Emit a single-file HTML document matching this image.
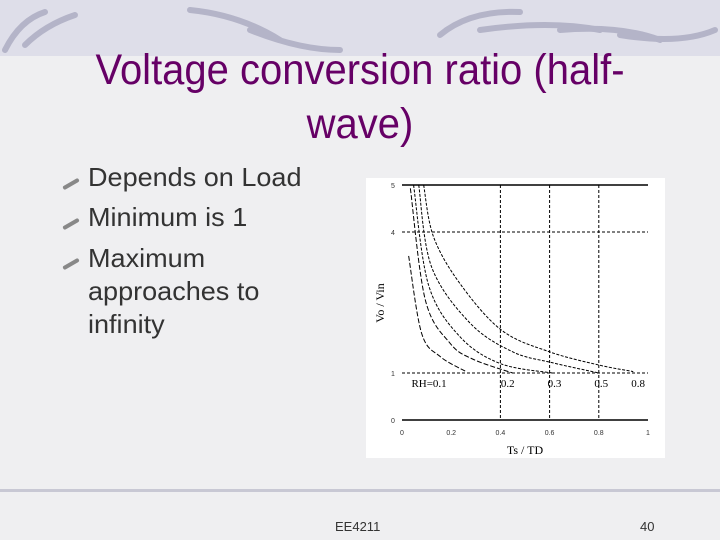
<!DOCTYPE html>
<html><head><meta charset="utf-8"><style>
body{margin:0;width:720px;height:540px;overflow:hidden;background:#efeff1;font-family:"Liberation Sans",sans-serif;position:relative}
.band{position:absolute;left:0;top:0;width:720px;height:56px;background:#dedee9}
.title{position:absolute;left:0;width:720px;text-align:center;color:#660066;font-size:43px;line-height:54px;transform:scaleX(0.93)}
.bul{position:absolute;left:88px;font-size:26px;color:#333;line-height:33px;transform-origin:0 0;transform:scaleX(1.04)}
.mark{position:absolute;left:62px;width:18px;height:4px;background:#888;transform:rotate(-30deg);border-radius:2px}
.foot{position:absolute;font-size:13px;color:#333}
</style></head><body>
<div class="band"></div>
<svg style="position:absolute;left:0;top:0" width="720" height="70">
<g stroke="#b4b4c8" stroke-width="6" fill="none" stroke-linecap="round">
<path d="M5 50 Q20 20 45 12"/><path d="M25 45 Q45 25 75 15"/><path d="M190 10 Q240 15 280 40"/><path d="M250 30 Q300 50 340 50"/>
<path d="M440 35 Q470 10 520 12"/><path d="M480 30 Q550 20 600 30"/><path d="M620 35 Q680 45 715 30"/><path d="M560 30 Q620 25 660 40"/>
</g></svg>
<div class="title" style="top:43px">Voltage conversion ratio (half-<br>wave)</div>
<div class="mark" style="top:182px"></div>
<div class="mark" style="top:222px"></div>
<div class="mark" style="top:262px"></div>
<div class="bul" style="top:161px">Depends on Load</div>
<div class="bul" style="top:201px">Minimum is 1</div>
<div class="bul" style="top:242px">Maximum<br>approaches to<br>infinity</div>
<svg id="chart" style="position:absolute;left:366px;top:178px" width="299" height="280"></svg>
<div style="position:absolute;left:0;top:489px;width:720px;height:3px;background:#c8c8d4"></div>
<div class="foot" style="left:335px;top:519px">EE4211</div>
<div class="foot" style="left:640px;top:519px">40</div>
<script>
const xTicks=[0,0.2,0.4,0.6,0.8,1];
const xTickLabels=["0","0.2","0.4","0.6","0.8","1"];
const yTicks=[0,1,4,5];
const yTickLabels=["0","1","2","3","4","5"];
const curveLabels=["RH=0.1","0.2","0.3","0.5","0.8"];
const c1x=[0.027,0.08,0.155,0.257],c1y=[3.49,1.84,1.35,1.04];
const c2x=[0.034,0.095,0.196,0.29,0.45],c2y=[4.93,2.55,1.63,1.29,1.0];
const c3x=[0.047,0.108,0.236,0.4,0.61],c3y=[5,2.87,1.77,1.2,1.0];
const c4x=[0.068,0.12,0.277,0.45,0.61,0.8],c4y=[5,3.26,2.06,1.45,1.22,1.0];
const c5x=[0.088,0.128,0.236,0.405,0.6,0.8,0.94],c5y=[5,3.9,2.9,1.91,1.45,1.17,1.03];
const svg=document.getElementById('chart');const NS='http://www.w3.org/2000/svg';
const X=v=>36+v*246, Y=v=>242-v*47;
function el(t,a,p){const e=document.createElementNS(NS,t);for(const k in a)e.setAttribute(k,a[k]);(p||svg).appendChild(e);return e;}
function smooth(px,py){let d='M'+px[0]+' '+py[0];for(let i=0;i<px.length-1;i++){const i0=Math.max(0,i-1),i3=Math.min(px.length-1,i+2);
const c1x=px[i]+(px[i+1]-px[i0])/6,c1y=py[i]+(py[i+1]-py[i0])/6,c2x=px[i+1]-(px[i3]-px[i])/6,c2y=py[i+1]-(py[i3]-py[i])/6;
d+=` C${c1x} ${c1y} ${c2x} ${c2y} ${px[i+1]} ${py[i+1]}`;}return d;}
const bg=el('rect',{x:0,y:0,width:299,height:280,fill:'#fff'});


[0,5].forEach(v=>{const l=el('line',{x1:X(0),x2:X(1),y1:Y(v),y2:Y(v),stroke:'#000','stroke-width':1.5});

});
[1,4].forEach(v=>{const l=el('line',{x1:X(0),x2:X(1),y1:Y(v),y2:Y(v),stroke:'#000','stroke-dasharray':'3,2'});

});
[0.4,0.6,0.8].forEach(v=>{const l=el('line',{x1:X(v),x2:X(v),y1:Y(5),y2:Y(0),stroke:'#000','stroke-dasharray':'3,2'});

});
xTicks.forEach((v,i)=>{const t=el('text',{x:X(v),y:Y(0)+15,'font-size':7,'text-anchor':'middle',fill:'#333'});t.textContent=xTickLabels[i];

});
yTicks.forEach(v=>{const t=el('text',{x:X(0)-9,y:Y(v)+3,'font-size':7,'text-anchor':'middle',fill:'#333'});t.textContent=yTickLabels[v];

});
const series=[[c1x,c1y],[c2x,c2y],[c3x,c3y],[c4x,c4y],[c5x,c5y]];
series.forEach((s,i)=>{const d=smooth(s[0].map(X),s[1].map(Y));
const p=el('path',{d:d,fill:'none',stroke:'#000','stroke-width':1,'stroke-dasharray':i<2?'5,2':'3,1.5'});

});
const lx=[0.11,0.43,0.62,0.81,0.96];
curveLabels.forEach((s,i)=>{const t=el('text',{x:X(lx[i]),y:Y(1)+14,'font-size':11,'font-family':'Liberation Serif','text-anchor':'middle'});t.textContent=s;

});
const yt=el('text',{x:0,y:0,'font-size':12,'font-family':'Liberation Serif',transform:'translate(18,125) rotate(-90)','text-anchor':'middle'});yt.textContent='Vo / Vin';


const xt=el('text',{x:X(0.5),y:276,'font-size':12,'font-family':'Liberation Serif','text-anchor':'middle'});xt.textContent='Ts / TD';


</script>
</body></html>
